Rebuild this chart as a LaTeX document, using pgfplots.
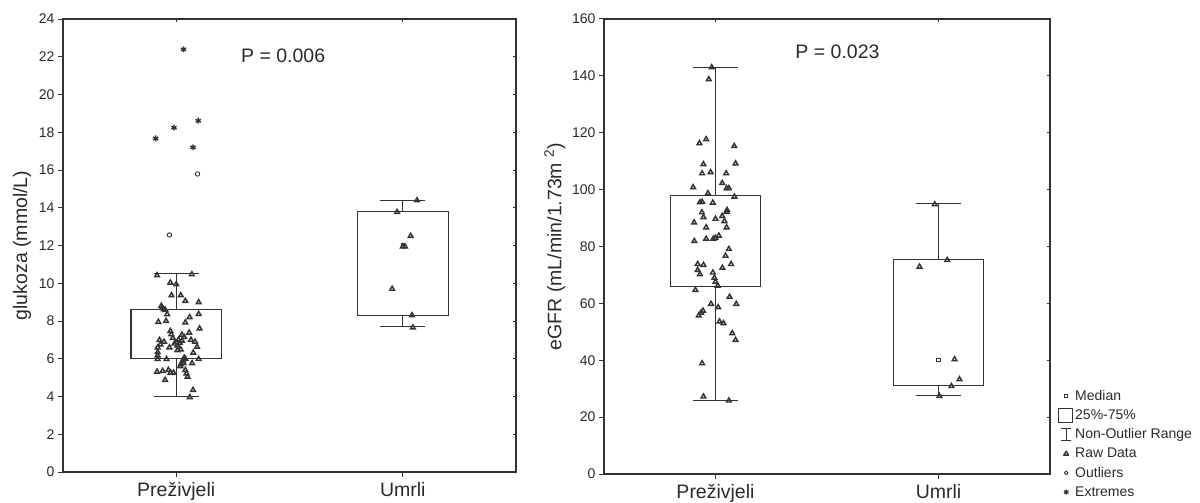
\documentclass[border=0pt]{standalone}
\usepackage{fontspec}
\setmainfont{Liberation Sans}
\usepackage{pgfplots}
\pgfplotsset{compat=1.18}
\usepgfplotslibrary{statistics}
\definecolor{lc}{HTML}{333333}
\definecolor{tc}{HTML}{2A2A2A}

\pgfplotsset{
  frame/.style={scale only axis, xmin=-0.5, xmax=1.5, xtick={0,1},
    axis line style={lc, line width=1.1pt}, tick style={lc, line width=1pt},
    /pgf/number format/assume math mode=true},
  main/.style={frame, tick align=outside, xtick pos=bottom, ytick pos=left,
    major tick length=5pt, xticklabels={Preživjeli, Umrli},
    xticklabel style={font=\fontsize{19.5}{22}\selectfont, text=tc, yshift=-2pt},
    yticklabel style={font=\fontsize{14}{16}\selectfont, text=tc},
    ylabel style={font=\fontsize{19.5}{22}\selectfont, text=tc, anchor=center},
    clip=false},
  mirror/.style={frame, tick align=inside, xtick pos=top, ytick pos=right,
    major tick length=3pt, xticklabels={}, yticklabels={}},
  bx/.style={draw=lc, line width=1.1pt, solid, boxplot/draw direction=y,
    boxplot/draw/median/.code={}},
  med/.style={only marks, mark=square, mark size=1.7pt, lc, mark options={line width=0.9pt, fill=white}},
  raw/.style={only marks, mark=triangle, mark size=2.7pt, lc, mark options={line width=1.45pt, solid}},
  outl/.style={only marks, mark=o, mark size=2.2pt, lc, mark options={line width=0.9pt}},
  extr/.style={only marks, mark=asterisk, mark size=3pt, lc, mark options={line width=1.4pt}},
}

\begin{document}
\begin{tikzpicture}
\path[use as bounding box] (0pt,0pt) rectangle (1200pt,-503pt);

% left panel: glukoza
\begin{axis}[main, at={(63pt,-472pt)}, anchor=south west, width=453pt, height=453pt,
  ymin=0, ymax=24, ytick={0,2,...,24},
  ylabel={glukoza (mmol/L)}, ylabel style={at={(axis description cs:-0.0905,0.5)}}]
\addplot[bx, boxplot prepared={draw position=0, median=6.9, lower quartile=6.0,
  upper quartile=8.6, lower whisker=4.0, upper whisker=10.5,
  box extend=0.4, whisker extend=0.2}] coordinates {};
\addplot[bx, boxplot prepared={draw position=1, median=12.0, lower quartile=8.3,
  upper quartile=13.8, lower whisker=7.7, upper whisker=14.4,
  box extend=0.4, whisker extend=0.2}] coordinates {};
\addplot[med] coordinates {(0,6.9) (1,12.0)};
\addplot[raw] coordinates {
  (-0.085,10.42) (0.069,10.47) (-0.026,10.03) (0.0,9.94) (-0.021,9.36) (0.02,9.36)
  (0.04,9.06) (0.099,8.99) (-0.066,8.80) (-0.062,8.70) (-0.055,8.62) (-0.048,8.58)
  (-0.04,8.35) (0.099,8.37) (0.059,8.20) (-0.079,7.95) (0.04,7.92) (0.103,7.60)
  (-0.026,7.47) (-0.022,7.29) (0.057,7.38) (0.025,7.27) (-0.074,6.99) (-0.054,6.90)
  (0.01,7.01) (-0.008,6.80) (-0.03,6.60) (0.083,6.90) (0.092,6.63) (-0.082,6.60)
  (-0.082,6.35) (-0.082,6.17) (0.075,6.32) (0.005,6.45) (0.02,6.49) (-0.082,5.98)
  (-0.043,5.98) (0.03,5.93) (0.032,5.76) (0.04,6.00) (0.099,5.98) (0.07,5.76)
  (0.018,5.60) (-0.085,5.31) (-0.035,5.40) (-0.012,5.26) (-0.025,5.26) (0.04,5.40)
  (0.045,5.22) (0.05,5.04) (-0.049,4.87) (0.074,4.34) (0.06,3.96)
  (0.015,6.85) (0.025,6.95) (0.005,6.70) (-0.015,7.10) (0.035,7.15) (-0.07,6.75)
  (0.065,7.00) (0.028,5.85) (0.035,6.05) (-0.06,5.35) (0.02,5.70) (-0.045,8.00)
  (1.063,14.39) (0.975,13.77) (1.035,12.50) (1.0,11.94) (1.01,11.94) (0.953,9.70)
  (1.041,8.30) (1.045,7.65)};
\addplot[outl] coordinates {(0.094,15.79) (-0.03,12.56)};
\addplot[extr] coordinates {(-0.091,17.67) (-0.01,18.24) (0.032,22.39) (0.097,18.61) (0.074,17.20)};
\node[font=\fontsize{19.5}{22}\selectfont, text=tc] at (axis cs:0.472,22.04) {P = 0.006};
\end{axis}
\begin{axis}[mirror, at={(63pt,-472pt)}, anchor=south west, width=453pt, height=453pt,
  ymin=0, ymax=24, ytick={0,2,...,24}]
\end{axis}

% right panel: eGFR (groups at x = 0 and 10)
\begin{axis}[main, at={(604pt,-474pt)}, anchor=south west, width=446pt, height=455pt,
  xmin=-5, xmax=15, xtick={0,10},
  ymin=0, ymax=160, ytick={0,20,...,160},
  ylabel={eGFR (mL/min/1.73m \textsuperscript{2})}, ylabel style={at={(axis description cs:-0.11,0.5)}}]
\addplot[bx, boxplot prepared={draw position=0, median=83, lower quartile=66,
  upper quartile=98, lower whisker=26, upper whisker=143,
  box extend=4, whisker extend=2}] coordinates {};
\addplot[bx, boxplot prepared={draw position=10, median=40.1, lower quartile=31.1,
  upper quartile=75.5, lower whisker=27.7, upper whisker=95.0,
  box extend=4, whisker extend=2}] coordinates {};
\addplot[med] coordinates {(0,83) (10,40.1)};
\addplot[raw] coordinates {
  (-0.17,143.0) (-0.3,138.8) (-0.72,116.3) (-0.42,117.7) (0.84,115.3) (0.9,109.2)
  (-0.54,108.9) (-0.6,105.7) (-0.22,106.1) (0.48,105.7) (-1.0,100.8) (0.3,102.3)
  (0.5,100.5) (0.6,100.5) (-0.34,98.7) (0.85,97.5) (-0.7,95.5) (-0.6,95.7)
  (-0.12,95.4) (-0.61,92.0) (-0.54,90.3) (0.0,89.7) (0.5,92.2) (0.52,92.8)
  (0.3,90.7) (0.4,88.9) (0.5,86.7) (-0.96,88.4) (-0.42,86.7) (-0.95,81.9)
  (-0.42,82.7) (-0.1,82.7) (0.0,83.0) (0.15,83.8) (0.6,79.1) (0.45,76.7)
  (-0.8,73.8) (-0.54,73.5) (0.7,73.8) (0.31,72.5) (-0.8,71.7) (-0.7,70.2)
  (-0.12,70.8) (-0.05,69.0) (0.0,67.6) (0.1,66.2) (-0.9,64.7) (0.63,62.3)
  (0.93,59.8) (-0.2,59.8) (0.12,58.6) (-0.56,57.4) (-0.65,56.7) (-0.75,55.7)
  (0.18,53.6) (0.36,53.0) (0.75,49.5) (0.9,47.1) (-0.6,38.9) (-0.54,27.2)
  (0.6,25.8)
  (9.83,94.8) (10.39,75.2) (9.15,72.9) (10.72,40.3) (10.94,33.3) (10.58,30.9) (10.04,27.4)};
\node[font=\fontsize{19.5}{22}\selectfont, text=tc] at (axis cs:5.47,148.4) {P = 0.023};
\end{axis}
\begin{axis}[mirror, at={(604pt,-474pt)}, anchor=south west, width=446pt, height=455pt,
  xmin=-5, xmax=15, xtick={0,10},
  ymin=0, ymax=160, ytick={0,20,...,160}]
\end{axis}

% legend, in its own empty axis
\begin{axis}[hide axis, scale only axis, width=10pt, height=10pt,
  at={(1052pt,-386pt)}, anchor=north west, xmin=0, xmax=1, ymin=0, ymax=1,
  legend style={draw=none, fill=none, at={(0,1)}, anchor=north west, row sep=3.8pt,
    font=\fontsize{14}{15}\selectfont, text=tc},
  legend cell align=left]
\addlegendimage{legend image code/.code={\path[draw=none, fill=none] (0pt,-6pt) rectangle (14pt,6pt);
  \draw[lc, line width=0.9pt, fill=white] (9.4pt,-1.6pt) rectangle (12.6pt,1.6pt);}}
\addlegendentry{Median}
\addlegendimage{legend image code/.code={\path[draw=none, fill=none] (0pt,-6pt) rectangle (14pt,6pt);
  \draw[lc, line width=1pt, fill=none] (3.5pt,-7pt) rectangle (17.5pt,7pt);}}
\addlegendentry{25\%-75\%}
\addlegendimage{legend image code/.code={\path[draw=none, fill=none] (0pt,-6pt) rectangle (14pt,6pt);
  \draw[lc, line width=1pt] (6pt,6pt) -- (16pt,6pt) (11pt,6pt) -- (11pt,-6pt) (6pt,-6pt) -- (16pt,-6pt);}}
\addlegendentry{Non-Outlier Range}
\addlegendimage{legend image code/.code={\path[draw=none, fill=none] (0pt,-6pt) rectangle (14pt,6pt);
  \draw[lc, line width=1.4pt, line join=round, fill=none] (8.6pt,-1.4pt) -- (13.4pt,-1.4pt) -- (11pt,2.5pt) -- cycle;}}
\addlegendentry{Raw Data}
\addlegendimage{legend image code/.code={\path[draw=none, fill=none] (0pt,-6pt) rectangle (14pt,6pt);
  \draw[lc, line width=0.9pt, fill=none] (11pt,0pt) circle (1.8pt);}}
\addlegendentry{Outliers}
\addlegendimage{legend image code/.code={\path[draw=none, fill=none] (0pt,-6pt) rectangle (14pt,6pt);
  \draw[lc, line width=1.3pt] (11pt,-2.5pt) -- (11pt,2.5pt) (8.8pt,-1.3pt) -- (13.2pt,1.3pt) (8.8pt,1.3pt) -- (13.2pt,-1.3pt);}}
\addlegendentry{Extremes}
\end{axis}
\end{tikzpicture}
\end{document}
